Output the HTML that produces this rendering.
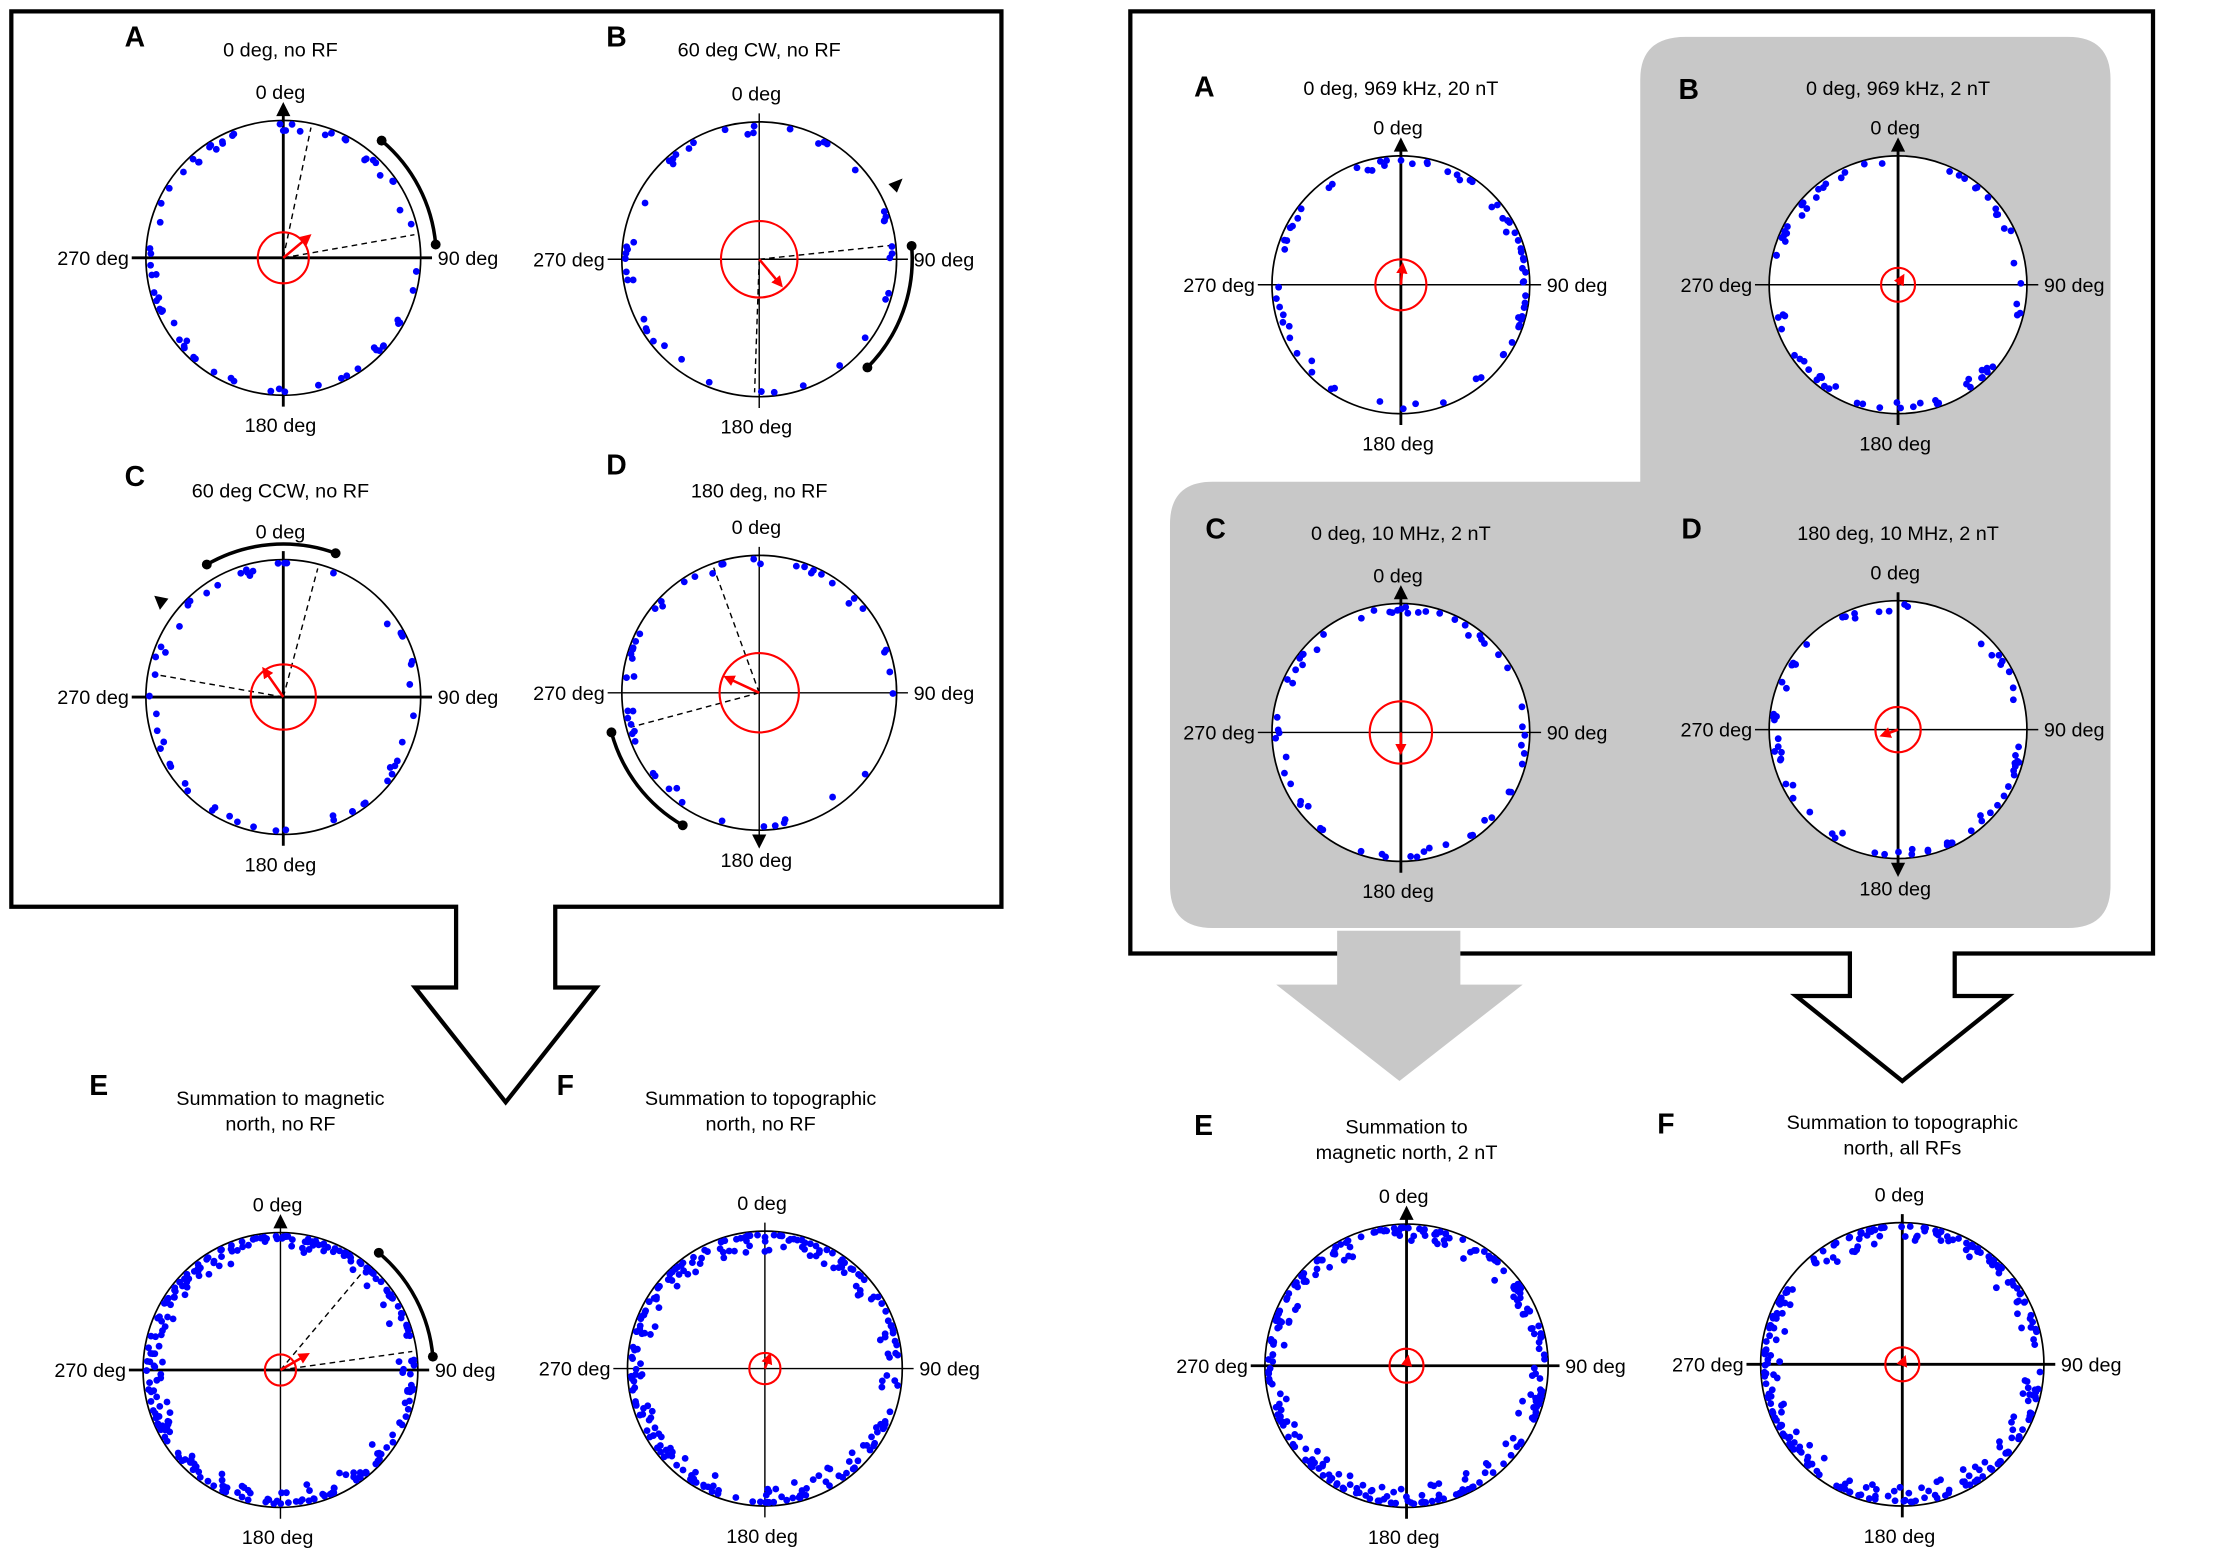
<!DOCTYPE html><html><head><meta charset="utf-8"><style>html,body{margin:0;padding:0;background:#fff}svg{display:block}</style></head><body>
<svg id="s" width="2221" height="1557" viewBox="0 0 1568 1099" preserveAspectRatio="none" xmlns="http://www.w3.org/2000/svg" font-family="Liberation Sans, Arial, sans-serif">
<defs>
<marker id="ar" markerWidth="8" markerHeight="8" refX="6" refY="4" orient="auto" markerUnits="userSpaceOnUse"><path d="M0,0 L8,4 L0,8z" fill="red"/></marker>
</defs>
<path d="M1190,26 H1460 Q1490,26 1490,56 V625 Q1490,655 1460,655 H856 Q826,655 826,625 V370 Q826,340 856,340 H1158 V56 Q1158,26 1190,26 Z" fill="#c8c8c8"/>
<path d="M8,8 H707 V640 H392 V697 H421 L357,778 L293,697 H322 V640 H8 Z" fill="none" stroke="#000" stroke-width="3"/>
<path d="M798,8 H1520 V673 H1380 V703 H1418 L1343,763 L1268,703 H1306 V673 H798 Z" fill="none" stroke="#000" stroke-width="3"/>
<path d="M944,657 H1031 V695 H1075 L988,763 L901,695 H944 Z" fill="#c8c8c8"/>
<g id="g"></g>
</svg>
<script>
var seed=7;function rnd(){seed=(seed*16807)%2147483647;return seed/2147483647;}
var P=[
{L:'A',lx:88,ly:33,t:'0 deg, no RF',tx:198,ty:40,cx:200,cy:182,r:97,rc:18,aa:50,al:24,th:1,tv:1,n:70,up:1,dash:[12,80],arc:[40,85]},
{L:'B',lx:428,ly:33,t:'60 deg CW, no RF',tx:536,ty:40,cx:536,cy:183,r:97,rc:27,aa:140,al:24,th:0,n:45,dash:[84,182],arc:[85,135],arcArrowStart:1},
{L:'C',lx:88,ly:343,t:'60 deg CCW, no RF',tx:198,ty:351,cx:200,cy:492,r:97,rc:23,aa:-35,al:24,th:1,tv:1,n:55,dash:[-80,15],arc:[-30,20],arcArrowEnd:1},
{L:'D',lx:428,ly:335,t:'180 deg, no RF',tx:536,ty:351,cx:536,cy:489,r:97,rc:28,aa:-65,al:26,th:0,n:50,down:1,dash:[-105,-20],arc:[-150,-105]},
{L:'E',lx:63,ly:773,t:['Summation to magnetic','north, no RF'],tx:198,ty:780,cx:198,cy:967,r:97,rc:11,aa:60,al:22,th:1,n:260,up:1,dash:[40,82],arc:[40,85]},
{L:'F',lx:393,ly:773,t:['Summation to topographic','north, no RF'],tx:537,ty:780,cx:540,cy:966,r:97,rc:11,aa:20,al:10,th:0,n:230},
{L:'A',lx:843,ly:68,t:'0 deg, 969 kHz, 20 nT',tx:989,ty:67,cx:989,cy:201,r:91,rc:18,aa:5,al:14,th:0,tv:1,n:70,up:1},
{L:'B',lx:1185,ly:70,t:'0 deg, 969 kHz, 2 nT',tx:1340,ty:67,cx:1340,cy:201,r:91,rc:12,aa:30,al:7,th:0,tv:1,n:70,up:1},
{L:'C',lx:851,ly:380,t:'0 deg, 10 MHz, 2 nT',tx:989,ty:381,cx:989,cy:517,r:91,rc:22,aa:180,al:14,th:0,tv:1,n:60,up:1},
{L:'D',lx:1187,ly:380,t:'180 deg, 10 MHz, 2 nT',tx:1340,ty:381,cx:1340,cy:515,r:91,rc:16,aa:250,al:12,th:0,tv:1,n:65,down:1},
{L:'E',lx:843,ly:801,t:['Summation to','magnetic north, 2 nT'],tx:993,ty:800,cx:993,cy:964,r:100,rc:12,aa:10,al:6,th:1,tv:1,n:260,up:1},
{L:'F',lx:1170,ly:800,t:['Summation to topographic','north, all RFs'],tx:1343,ty:797,cx:1343,cy:963,r:100,rc:12,aa:20,al:5,th:1,tv:1,n:260}
];
var s='';
function pt(cx,cy,R,a){var r=a*Math.PI/180;return [cx+R*Math.sin(r),cy-R*Math.cos(r)];}
P.forEach(function(p){
 var cx=p.cx,cy=p.cy,r=p.r,sw=p.th?2:1,sv=p.tv?2:1;
 s+='<text x="'+p.lx+'" y="'+p.ly+'" font-size="20" font-weight="bold">'+p.L+'</text>';
 if(typeof p.t=='string') s+='<text x="'+p.tx+'" y="'+p.ty+'" font-size="14" text-anchor="middle">'+p.t+'</text>';
 else s+='<text x="'+p.tx+'" y="'+p.ty+'" font-size="14" text-anchor="middle">'+p.t[0]+'</text><text x="'+p.tx+'" y="'+(p.ty+18)+'" font-size="14" text-anchor="middle">'+p.t[1]+'</text>';
 s+='<text x="'+(cx-2)+'" y="'+(cy-r-15)+'" font-size="14" text-anchor="middle">0 deg</text>';
 s+='<text x="'+(cx-2)+'" y="'+(cy+r+26)+'" font-size="14" text-anchor="middle">180 deg</text>';
 s+='<text x="'+(cx-r-12)+'" y="'+(cy+5)+'" font-size="14" text-anchor="end">270 deg</text>';
 s+='<text x="'+(cx+r+12)+'" y="'+(cy+5)+'" font-size="14">90 deg</text>';
 s+='<circle cx="'+cx+'" cy="'+cy+'" r="'+r+'" fill="#fff" stroke="#000" stroke-width="1.2"/>';
 s+='<line x1="'+(cx-r-10)+'" y1="'+cy+'" x2="'+(cx+r+8)+'" y2="'+cy+'" stroke="#000" stroke-width="'+sw+'"/>';
 s+='<line x1="'+cx+'" y1="'+(cy-r-(p.up?4:6))+'" x2="'+cx+'" y2="'+(cy+r+(p.down?4:8))+'" stroke="#000" stroke-width="'+sv+'"/>';
 if(p.up) s+='<path d="M'+(cx-5)+','+(cy-r-3)+' L'+cx+','+(cy-r-13)+' L'+(cx+5)+','+(cy-r-3)+'z"/>';
 if(p.down) s+='<path d="M'+(cx-5)+','+(cy+r+3)+' L'+cx+','+(cy+r+13)+' L'+(cx+5)+','+(cy+r+3)+'z"/>';
 if(p.dash){p.dash.forEach(function(a){var q=pt(cx,cy,r-3,a);s+='<line x1="'+cx+'" y1="'+cy+'" x2="'+q[0]+'" y2="'+q[1]+'" stroke="#000" stroke-dasharray="4,3" stroke-width="1"/>';});}
 for(var i=0;i<p.n;i++){var a=rnd()*360;var R=r-2.5-Math.pow(rnd(),3)*(p.n>150?12:6);var q=pt(cx,cy,R,a);s+='<circle cx="'+q[0].toFixed(1)+'" cy="'+q[1].toFixed(1)+'" r="2.4" fill="#0000ff"/>';}
 s+='<circle cx="'+cx+'" cy="'+cy+'" r="'+p.rc+'" fill="none" stroke="red" stroke-width="1.5"/>';
 var e=pt(cx,cy,p.al,p.aa);
 s+='<line x1="'+cx+'" y1="'+cy+'" x2="'+e[0]+'" y2="'+e[1]+'" stroke="red" stroke-width="1.8" marker-end="url(#ar)"/>';
 if(p.arc){var R2=r+11,a0=pt(cx,cy,R2,p.arc[0]),a1=pt(cx,cy,R2,p.arc[1]);
  s+='<path d="M'+a0[0]+','+a0[1]+' A'+R2+','+R2+' 0 0 1 '+a1[0]+','+a1[1]+'" fill="none" stroke="#000" stroke-width="2.5"/>';
  s+='<circle cx="'+a0[0]+'" cy="'+a0[1]+'" r="3.5"/><circle cx="'+a1[0]+'" cy="'+a1[1]+'" r="3.5"/>';
  if(p.arcArrowStart){var t=pt(cx,cy,R2,p.arc[0]-22);s+='<path d="M'+(t[0]-5)+','+(t[1]-4)+' l10,-4 l-4,10z"/>';}
  if(p.arcArrowEnd){var t=pt(cx,cy,R2,p.arc[0]-22);s+='<path d="M'+(t[0]-6)+','+(t[1]-5)+' l10,2 l-6,8z"/>';}
 }
});
document.getElementById('g').innerHTML=s;
</script>
</body></html>
